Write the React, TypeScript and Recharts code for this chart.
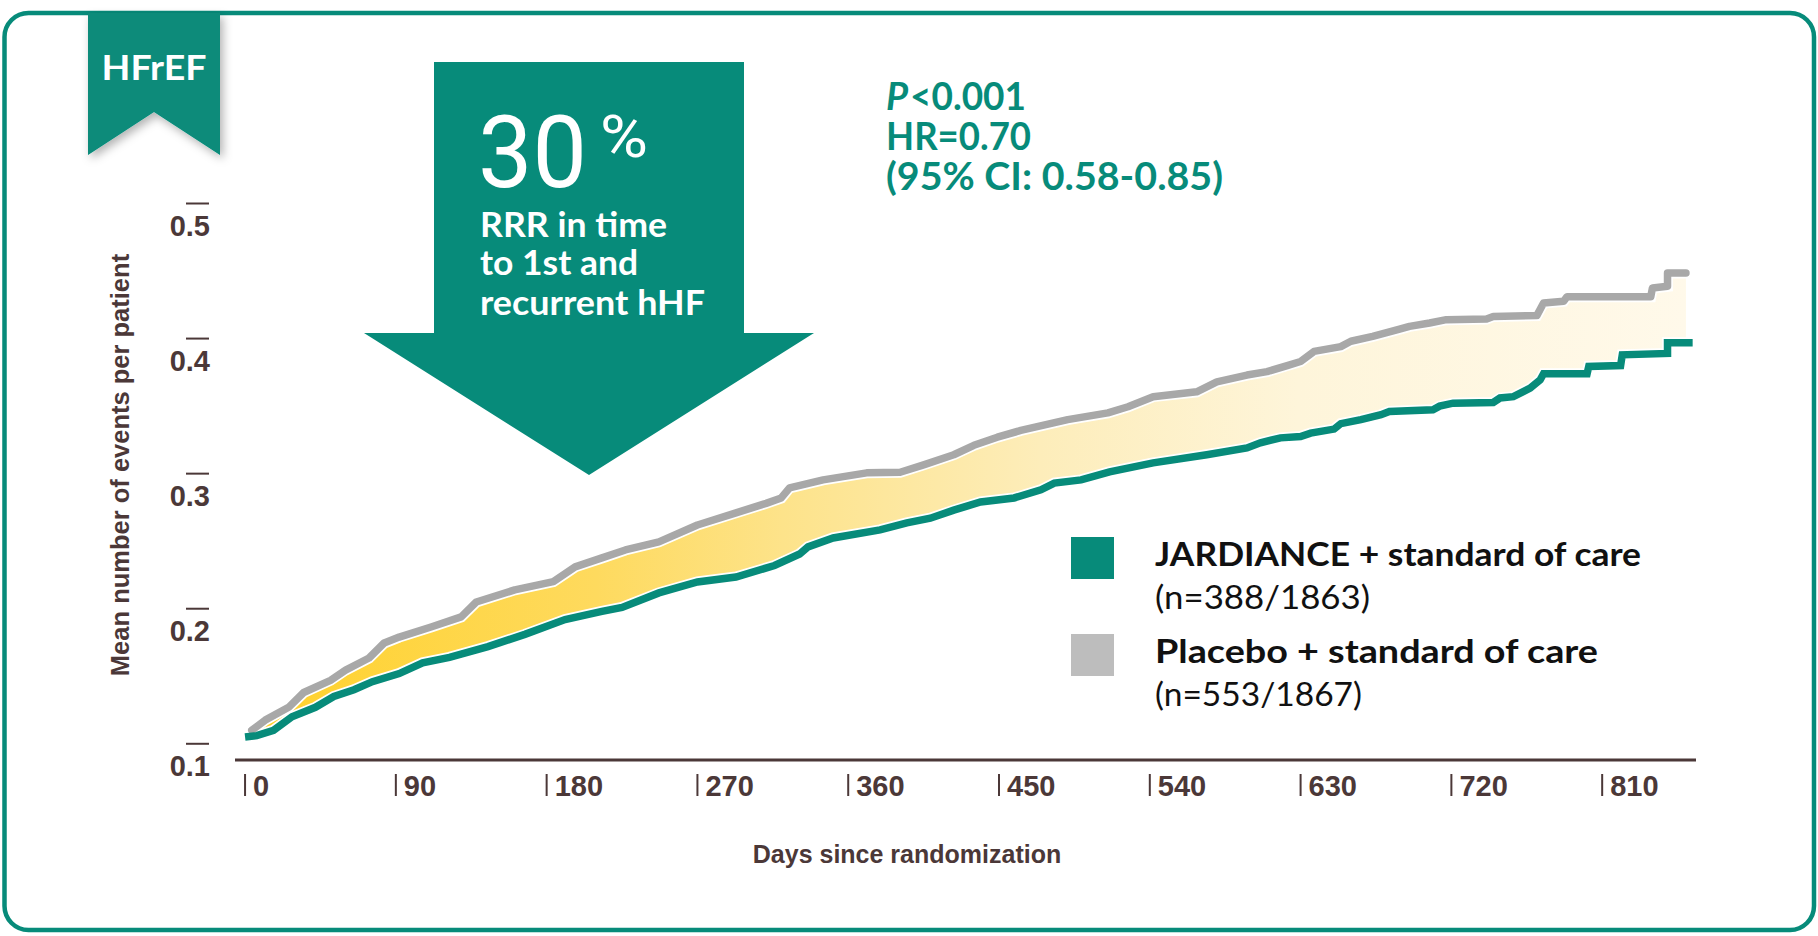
import React from 'react'
import { ComposedChart, Line, Area, XAxis, YAxis, Legend } from 'recharts'

const dayTicks = [0, 90, 180, 270, 360, 450, 540, 630, 720, 810]
const rateTicks = [0.1, 0.2, 0.3, 0.4, 0.5]

// Placebo + standard of care
const placeboDays = [
  4, 12, 26, 35, 51, 60, 74, 83, 92, 111, 129, 138, 161, 184, 197, 213, 227, 247, 270, 293, 311, 320, 325,
  345, 371, 391, 405, 423, 435, 449, 463, 491, 515, 527, 542, 568, 580, 598, 610, 622, 630,
  638, 654, 660, 673, 688, 695, 707, 717, 741, 745, 771, 775, 787, 789, 839, 840, 849, 849, 860,
]
const placeboRates = [
  0.11, 0.1175, 0.127, 0.138, 0.147, 0.1546, 0.1635, 0.1746, 0.179, 0.1865, 0.194, 0.205, 0.214, 0.22, 0.231,
  0.2376, 0.2435, 0.2495, 0.262, 0.271, 0.278, 0.282, 0.2895,
  0.2954, 0.3006, 0.301, 0.3065, 0.314, 0.321, 0.327, 0.332, 0.34, 0.345, 0.3495, 0.357, 0.3606, 0.368, 0.373,
  0.3755, 0.38, 0.383,
  0.3905, 0.394, 0.398, 0.4016, 0.4066, 0.409, 0.4115, 0.414, 0.4145, 0.4164, 0.417, 0.4263, 0.4276, 0.431,
  0.431, 0.4375, 0.4387, 0.4486, 0.4486,
]

// JARDIANCE + standard of care
const jardianceDays = [
  0, 7, 17, 28, 42, 53, 65, 76, 92, 106, 122, 145, 167, 191, 213, 225, 247, 270, 293, 316, 331,
  336, 351, 379, 395, 409, 423, 439, 459, 475, 483, 499, 516, 542, 574, 598, 606, 618,
  630, 636, 650, 654, 666, 678, 683, 709, 713, 721, 745, 749, 757, 767, 773, 775, 801, 802, 821, 822, 849, 849, 864,
]
const jardianceRates = [
  0.105, 0.106, 0.11, 0.12, 0.127, 0.135, 0.14, 0.146, 0.152, 0.16, 0.164, 0.172, 0.181, 0.192, 0.198, 0.201,
  0.2117, 0.2198, 0.2235, 0.232, 0.2405,
  0.2458, 0.2524, 0.2584, 0.2636, 0.267, 0.273, 0.279, 0.282, 0.288, 0.293, 0.2954, 0.3013, 0.308, 0.314, 0.319,
  0.3228, 0.3265,
  0.3275, 0.33, 0.333, 0.337, 0.34, 0.3436, 0.346, 0.3473, 0.35, 0.3522, 0.3527, 0.356, 0.357, 0.3633, 0.3695,
  0.374, 0.374, 0.3794, 0.38, 0.388, 0.389, 0.397, 0.397,
]

const legendLabels = ['JARDIANCE + standard of care', 'Placebo + standard of care']
const legendCounts = ['(n=388/1863)', '(n=553/1867)']

const TEAL = '#078B7A'
const GREY = '#A8A8A8'
const BROWN = '#4B3838'
const AXIS_FONT = '"Liberation Sans", Arial, sans-serif'
const SANS = 'Lato, "Noto Sans", sans-serif'

const rows = [
  ...placeboDays.map((d, i) => ({ d, placebo: placeboRates[i] })),
  ...jardianceDays.map((d, i) => ({ d, jardiance: jardianceRates[i] })),
].sort((a, b) => a.d - b.d)

function RateTick({ x, y, payload }: any) {
  return (
    <g>
      <line x1={x - 49} x2={x - 26} y1={y} y2={y} stroke={BROWN} strokeWidth={2} />
      <text x={x - 25} y={y + 32} textAnchor="end" fontFamily={AXIS_FONT} fontWeight={700} fontSize={29} fill={BROWN}>
        {payload.value.toFixed(1)}
      </text>
    </g>
  )
}

function DayTick({ x, y, payload }: any) {
  return (
    <g>
      <line x1={x} x2={x} y1={y + 14} y2={y + 36} stroke={BROWN} strokeWidth={2} />
      <text x={x + 8} y={y + 36} fontFamily={AXIS_FONT} fontWeight={700} fontSize={29} fill={BROWN}>
        {payload.value}
      </text>
    </g>
  )
}

function LegendBox() {
  const colors = [TEAL, '#BDBDBD']
  return (
    <svg width={620} height={200} style={{ display: 'block' }}>
      {legendLabels.map((label, i) => (
        <g key={label} transform={`translate(0, ${i * 97})`}>
          <rect x={11} y={17} width={43} height={42} fill={colors[i]} />
          <text x={95} y={46} fontFamily={SANS} fontWeight={700} fontSize={33} fill="#111"
            textLength={i === 0 ? 486 : 443} lengthAdjust="spacingAndGlyphs">
            {label}
          </text>
          <text x={95} y={89} fontFamily={SANS} fontWeight={400} fontSize={33} fill="#111"
            textLength={i === 0 ? 215 : 207} lengthAdjust="spacingAndGlyphs">
            {legendCounts[i]}
          </text>
        </g>
      ))}
    </svg>
  )
}

function Decorations() {
  return (
    <svg width={1818} height={936} style={{ position: 'absolute', left: 0, top: 0 }}>
      <defs>
        <filter id="ribbonShadow" x="-30%" y="-30%" width="160%" height="160%">
          <feDropShadow dx={3} dy={4} stdDeviation={5} floodColor="#000" floodOpacity={0.3} />
        </filter>
      </defs>
      <rect x={4.5} y={13} width={1809.5} height={917} rx={24} fill="none" stroke={TEAL} strokeWidth={4.5} />
      <polygon points="88,13 220,13 220,155 154,112 88,155" fill={TEAL} filter="url(#ribbonShadow)" />
      <text x={154} y={80} textAnchor="middle" fontFamily={SANS} fontWeight={700} fontSize={35} fill="#fff"
        textLength={105} lengthAdjust="spacingAndGlyphs">HFrEF</text>

      <polygon points="434,62 744,62 744,333 814,333 589,475 364,333 434,333" fill={TEAL} />
      <text x={478} y={187} fontFamily="Roboto, sans-serif" fontWeight={400} fontSize={100} fill="#fff"
        textLength={109} lengthAdjust="spacingAndGlyphs">30</text>
      <text x={600} y={157} fontFamily="Roboto, sans-serif" fontWeight={400} fontSize={60} fill="#fff"
        textLength={48} lengthAdjust="spacingAndGlyphs">%</text>
      <text fontFamily={SANS} fontWeight={700} fontSize={34} fill="#fff">
        <tspan x={480} y={237} textLength={187} lengthAdjust="spacingAndGlyphs">RRR in time</tspan>
        <tspan x={480} y={275} textLength={158} lengthAdjust="spacingAndGlyphs">to 1st and</tspan>
        <tspan x={480} y={315} textLength={225} lengthAdjust="spacingAndGlyphs">recurrent hHF</tspan>
      </text>

      <text fontFamily={SANS} fontWeight={700} fontSize={38} fill={TEAL}>
        <tspan x={886} y={110} fontStyle="italic">P</tspan>
        <tspan x={910} y={110} textLength={116} lengthAdjust="spacingAndGlyphs">&lt;0.001</tspan>
        <tspan x={886} y={150} textLength={145} lengthAdjust="spacingAndGlyphs">HR=0.70</tspan>
        <tspan x={886} y={190} textLength={337} lengthAdjust="spacingAndGlyphs">(95% CI: 0.58-0.85)</tspan>
      </text>
    </svg>
  )
}

export default function App() {
  return (
    <div style={{ position: 'absolute', left: 0, top: 0, width: 1818, height: 936, background: '#fff' }}>
      <Decorations />
      <div style={{ position: 'absolute', left: 0, top: 0 }}>
        <ComposedChart width={1818} height={936} data={rows}
          margin={{ top: 203.5, right: 122, bottom: 116, left: 175 }}>
          <defs>
            <linearGradient id="band" x1="0" y1="0" x2="1" y2="0">
              <stop offset="0%" stopColor="#FFD12A" />
              <stop offset="24%" stopColor="#FEDA5E" />
              <stop offset="37%" stopColor="#FDE38A" />
              <stop offset="55%" stopColor="#FDEDBA" />
              <stop offset="73%" stopColor="#FEF5DA" />
              <stop offset="100%" stopColor="#FFF9EA" />
            </linearGradient>
          </defs>
          <XAxis dataKey="d" type="number" domain={[-6, 866]} allowDataOverflow ticks={dayTicks} interval={0}
            height={60} tickSize={0} tickMargin={0} tickLine={false}
            axisLine={{ stroke: BROWN, strokeWidth: 3 }} tick={<DayTick />}
            label={{
              content: () => (
                <text x={907} y={863} textAnchor="middle" fontFamily={AXIS_FONT} fontWeight={700} fontSize={25} fill={BROWN}>
                  Days since randomization
                </text>
              ),
            }} />
          <YAxis type="number" domain={[0.088, 0.5]} allowDataOverflow ticks={rateTicks} interval={0}
            width={60} tickSize={0} tickMargin={0} tickLine={false} axisLine={false} tick={<RateTick />}
            label={{
              content: () => (
                <text x={129} y={465} transform="rotate(-90, 129, 465)" textAnchor="middle" fontFamily={AXIS_FONT}
                  fontWeight={700} fontSize={25.5} fill={BROWN}>
                  Mean number of events per patient
                </text>
              ),
            }} />
          <Area dataKey="placebo" type="linear" connectNulls baseValue={0.1} fill="url(#band)" fillOpacity={1}
            stroke="none" isAnimationActive={false} legendType="none" />
          <Area dataKey="jardiance" type="linear" connectNulls baseValue={0.095} fill="#fff" fillOpacity={1}
            stroke="none" isAnimationActive={false} legendType="none" />
          <Line dataKey="placebo" type="linear" connectNulls stroke="#fff" strokeWidth={11} dot={false}
            isAnimationActive={false} legendType="none" />
          <Line dataKey="jardiance" type="linear" connectNulls stroke="#fff" strokeWidth={11} dot={false}
            isAnimationActive={false} legendType="none" />
          <Line dataKey="placebo" type="linear" connectNulls stroke={GREY} strokeWidth={7.5} strokeLinecap="round"
            strokeLinejoin="round" dot={false} isAnimationActive={false} legendType="none" />
          <Line dataKey="jardiance" type="linear" connectNulls stroke={TEAL} strokeWidth={7.5} dot={false}
            isAnimationActive={false} legendType="none" />
          <Legend layout="vertical" align="center" verticalAlign="middle" content={() => <LegendBox />}
            wrapperStyle={{ left: 1060, top: 520, width: 620, height: 200 }} />
        </ComposedChart>
      </div>
    </div>
  )
}
